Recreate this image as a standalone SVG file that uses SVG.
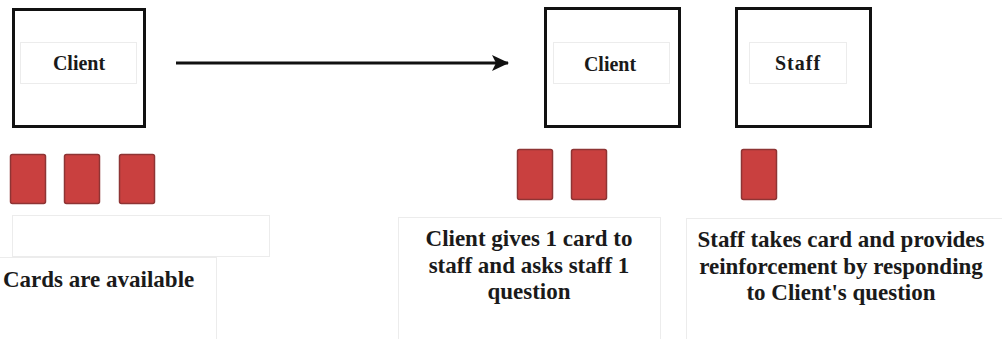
<svg xmlns="http://www.w3.org/2000/svg" width="1002" height="339" viewBox="0 0 1002 339">
<style>
.box{fill:#fff;stroke:#111;stroke-width:3}
.faint{fill:none;stroke:#ececec;stroke-width:1}
.card{fill:#c9403f;stroke:#8e3434;stroke-width:1.5}
.lbl{font-family:'Liberation Serif',serif;font-weight:bold;font-size:20px;fill:#1a1a1a;text-anchor:middle}
.txt{font-family:'Liberation Serif',serif;font-weight:bold;font-size:23px;fill:#1a1a1a}
</style>
<defs>
<marker id="ah" viewBox="0 0 17 16" refX="16" refY="8" markerWidth="17" markerHeight="16" orient="auto" markerUnits="userSpaceOnUse">
<path d="M0,0 L17,8 L0,16 L4,8 z" fill="#111"/>
</marker>
</defs>
<g id="client1">
<rect class="box" x="13.5" y="9.5" width="131" height="117"/>
<rect class="faint" x="20.5" y="42.5" width="116" height="41"/>
<text class="lbl" x="79" y="70">Client</text>
</g>
<g id="client2">
<rect class="box" x="545.5" y="8.5" width="134" height="118"/>
<rect class="faint" x="553.5" y="42.5" width="116" height="41"/>
<text class="lbl" x="610" y="71">Client</text>
</g>
<g id="staff">
<rect class="box" x="736.5" y="8.5" width="134" height="118"/>
<rect class="faint" x="749.5" y="42.5" width="97" height="41"/>
<text class="lbl" x="798" y="70" letter-spacing="1">Staff</text>
</g>
<g id="connectors">
<line x1="176" y1="63" x2="508" y2="63" stroke="#111" stroke-width="3" marker-end="url(#ah)"/>
</g>
<g id="cards">
<rect class="card" x="10.5" y="154.5" width="35" height="49" rx="2"/>
<rect class="card" x="64.5" y="154.5" width="35" height="49" rx="2"/>
<rect class="card" x="119.5" y="154.5" width="35" height="49" rx="2"/>
<rect class="card" x="517.5" y="149.5" width="35" height="50" rx="2"/>
<rect class="card" x="571.5" y="149.5" width="35" height="50" rx="2"/>
<rect class="card" x="741.5" y="149.5" width="35" height="50" rx="2"/>
</g>
<g id="caption1">
<rect class="faint" x="12.5" y="215.5" width="257" height="41"/>
<line class="faint" x1="0" y1="257.5" x2="216" y2="257.5"/>
<line class="faint" x1="216.5" y1="257" x2="216.5" y2="339"/>
<text class="txt" x="3" y="287">Cards are available</text>
</g>
<g id="caption2">
<rect class="faint" x="398.5" y="217.5" width="262" height="125"/>
<text class="txt" text-anchor="middle" x="529"><tspan x="529" y="246">Client gives 1 card to</tspan><tspan x="529" y="273">staff and asks staff 1</tspan><tspan x="529" y="299">question</tspan></text>
</g>
<g id="caption3">
<rect class="faint" x="686.5" y="218.5" width="320" height="125"/>
<text class="txt" text-anchor="middle" x="841"><tspan x="841" y="247">Staff takes card and provides</tspan><tspan x="841" y="274">reinforcement by responding</tspan><tspan x="841" y="300">to Client's question</tspan></text>
</g>
</svg>
